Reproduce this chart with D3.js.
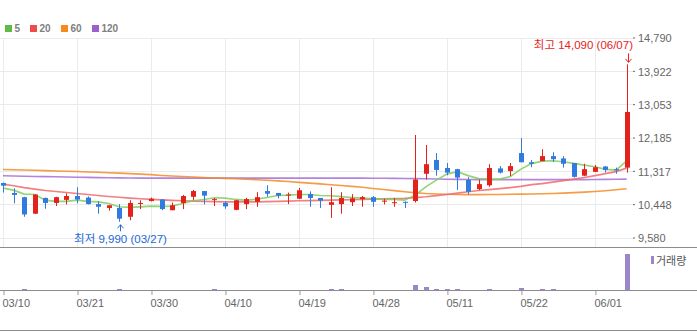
<!DOCTYPE html>
<html>
<head>
<meta charset="utf-8">
<script src="https://cdn.jsdelivr.net/npm/d3@7"></script>
<style>
  html, body { margin: 0; padding: 0; background: #fff; }
  svg { display: block; font-family: "Liberation Sans", Arial, "Noto Sans CJK KR", sans-serif; }
</style>
</head>
<body>
<svg id="chart" width="697" height="332"></svg>
<script>
// Daily trading dates (2023)
const dates = [
  "03/10","03/13","03/14","03/15","03/16","03/17","03/20","03/21",
  "03/22","03/23","03/24","03/27","03/28","03/29","03/30",
  "03/31","04/03","04/04","04/05","04/06","04/07","04/10",
  "04/11","04/12","04/13","04/14","04/17","04/18","04/19",
  "04/20","04/21","04/24","04/25","04/26","04/27","04/28",
  "05/02","05/03","05/04","05/08","05/09","05/10","05/11",
  "05/12","05/15","05/16","05/17","05/18","05/19","05/22",
  "05/23","05/24","05/25","05/26","05/30","05/31","06/01",
  "06/02","06/05","06/07"
];

const open = [
  11000,10740,10630,10200,10610,10480,10560,10660,
  10620,10450,10350,10350,10120,10460,10530,
  10570,10290,10480,10640,10790,10560,10480,
  10300,10450,10510,10790,10740,10690,10590,
  10710,10610,10430,10450,10500,10580,10630,
  10520,10490,10510,10530,11240,11600,11390,
  11360,11080,10840,10940,11380,11310,11780,
  11540,11570,11700,11640,11520,11190,11290,
  11430,11360,11400
];
const high = [
  11010,10860,10640,10710,10620,10640,10730,10890,
  10650,10520,10420,10450,10550,10550,10620,
  10580,10490,10690,10820,10790,10610,10520,
  10560,10610,10760,10940,10740,10750,10870,
  10780,10610,10890,10760,10710,10660,10660,
  10590,10610,10520,12250,11990,11780,11520,
  11370,11150,11090,11490,11440,11520,12170,
  11600,11880,11800,11700,11520,11500,11470,
  11440,11400,14090
];
const low = [
  10750,10470,10120,10190,10330,10400,10440,10470,
  10440,10200,10280,9990,10030,10320,10520,
  10290,10290,10320,10550,10440,10400,10330,
  10290,10320,10380,10640,10600,10450,10580,
  10380,10350,10090,10200,10400,10380,10380,
  10440,10380,10350,10490,11090,11190,11200,
  10820,10700,10810,10900,11250,11180,11540,
  11410,11560,11550,11400,11140,11180,11280,
  11270,11240,11270
];
const close = [
  10930,10690,10180,10700,10480,10630,10660,10570,
  10450,10380,10420,10070,10480,10480,10590,
  10320,10420,10660,10790,10670,10580,10390,
  10550,10580,10630,10720,10670,10700,10810,
  10610,10540,10500,10610,10600,10630,10510,
  10540,10500,10490,11090,11490,11340,11270,
  11140,10770,10970,11390,11270,11440,11540,
  11500,11700,11620,11500,11160,11360,11410,
  11340,11330,12850
];
const volume = [
  20000,15000,60000,25000,15000,10000,12000,18000,
  10000,14000,12000,65000,30000,10000,12000,
  14000,9000,16000,20000,15000,60000,12000,
  15000,10000,18000,22000,11000,9000,20000,
  14000,12000,65000,60000,18000,12000,10000,
  8000,9000,7000,350000,210000,80000,70000,
  72000,30000,20000,70000,25000,30000,140000,
  25000,70000,68000,28000,32000,22000,18000,
  15000,14000,2520000
];

// Moving averages (5 / 20 / 60 / 120 days)
const ma5 = [
  10866,10814,10710,10702,10554,10520,10520,10554,
  10520,10509,10468,10379,10364,10379,10397,
  10390,10397,10468,10536,10572,10614,10606,
  10572,10546,10580,10624,10676,10684,10702,
  10702,10676,10666,10645,10624,10606,10588,
  10572,10572,10554,10684,10900,11075,11231,
  11296,11192,11114,11101,11101,11166,11361,
  11505,11570,11578,11552,11510,11466,11421,
  11354,11335,11578
];
const ma20 = [
  10971,10926,10879,10840,10806,10780,10754,10728,
  10702,10676,10650,10627,10606,10588,10572,
  10559,10548,10538,10528,10520,10515,10509,
  10507,10507,10509,10515,10520,10528,10536,
  10541,10548,10554,10559,10567,10572,10580,
  10585,10593,10598,10619,10640,10671,10702,
  10736,10770,10806,10827,10853,10879,10911,
  10958,10984,11023,11062,11101,11145,11192,
  11244,11296,11387
];
const ma60 = [
  11353,11346,11338,11330,11322,11314,11307,11299,
  11288,11278,11267,11257,11244,11231,11218,
  11197,11181,11168,11155,11142,11129,11119,
  11109,11098,11085,11072,11056,11038,11017,
  10997,10976,10955,10934,10913,10887,10858,
  10830,10801,10773,10746,10726,10713,10705,
  10700,10697,10697,10700,10702,10705,10710,
  10715,10720,10728,10736,10749,10762,10778,
  10799,10822,10848
];
const ma120 = [
  11189,11181,11176,11171,11166,11161,11155,11150,
  11145,11140,11137,11132,11129,11127,11127,
  11127,11127,11127,11127,11127,11127,11127,
  11127,11127,11127,11127,11127,11127,11127,
  11127,11127,11127,11127,11127,11127,11124,
  11122,11119,11116,11114,11109,11103,11098,
  11093,11090,11088,11088,11088,11088,11088,
  11088,11088,11088,11088,11088,11088,11090,
  11093,11098,11101
];

const priceTicks = [14790, 13922, 13053, 12185, 11317, 10448, 9580];
const dateTicks = ["03/10","03/21","03/30","04/10","04/19","04/28","05/11","05/22","06/01"];

const maSeries = [
  { name: "5",   values: ma5,   color: "#5dbb46", line: "#7fcc5e" },
  { name: "20",  values: ma20,  color: "#ef4b4b", line: "#f06a6a" },
  { name: "60",  values: ma60,  color: "#f68a1e", line: "#f48a26" },
  { name: "120", values: ma120, color: "#9b5fce", line: "#a56fd6" }
];

const UP = "#e3221b", DOWN = "#317ae0";

const svg = d3.select("#chart");
const W = 697;
const plotRight = 633;

const x = d3.scalePoint().domain(dates).range([3, 626.6]);
const y = d3.scaleLinear().domain([9580, 14790]).range([237.5, 37.5]);
const yVol = d3.scaleLinear().domain([0, 2800000]).range([290, 250]);

// Horizontal price gridlines
svg.append("g").selectAll("line").data(priceTicks).join("line")
  .attr("x1", 0).attr("x2", plotRight)
  .attr("y1", d => Math.round(y(d)) + 0.5).attr("y2", d => Math.round(y(d)) + 0.5)
  .attr("stroke", "#ebebeb");

// Vertical date gridlines (price panel)
svg.append("g").selectAll("line").data(dateTicks).join("line")
  .attr("x1", d => Math.round(x(d)) + 0.5).attr("x2", d => Math.round(x(d)) + 0.5)
  .attr("y1", Math.round(y(14790))).attr("y2", 247)
  .attr("stroke", "#ebebeb");

// Right price axis
const yAxis = svg.append("g").attr("transform", `translate(${plotRight},0)`)
  .call(d3.axisRight(y).tickValues(priceTicks).tickSize(2).tickPadding(3)
    .tickFormat(d3.format(",")));
yAxis.select(".domain").remove();
yAxis.selectAll(".tick line").attr("stroke", "#666");
yAxis.selectAll("text").attr("fill", "#666").attr("font-size", 11)
  .attr("font-family", "Liberation Sans, Arial, sans-serif").attr("dy", "0.4em");

// Panel borders
[247.5, 290.5, 330.5].forEach(v => {
  svg.append("line").attr("x1", 0).attr("x2", W).attr("y1", v).attr("y2", v)
    .attr("stroke", "#8c8c8c");
});

// Moving-average lines
const line = d3.line().x((d, i) => x(dates[i])).y(d => y(d)).curve(d3.curveLinear);
svg.append("g").selectAll("path").data(maSeries.slice().reverse()).join("path")
  .attr("d", s => line(s.values))
  .attr("fill", "none")
  .attr("stroke", s => s.line)
  .attr("stroke-width", 1.6)
  .attr("stroke-opacity", 0.85);

// Candles
const candles = svg.append("g").selectAll("g").data(dates).join("g");
candles.append("line")
  .attr("x1", (d, i) => Math.round(x(d)) + 0.5).attr("x2", (d, i) => Math.round(x(d)) + 0.5)
  .attr("y1", (d, i) => y(high[i])).attr("y2", (d, i) => y(low[i]))
  .attr("stroke", (d, i) => close[i] >= open[i] ? UP : DOWN)
  .attr("stroke-width", 1);
candles.append("rect")
  .attr("x", d => Math.round(x(d)) - 2)
  .attr("width", 5)
  .attr("y", (d, i) => y(Math.max(open[i], close[i])))
  .attr("height", (d, i) => Math.max(1, Math.abs(y(open[i]) - y(close[i]))))
  .attr("fill", (d, i) => close[i] >= open[i] ? UP : DOWN);

// Volume bars
svg.append("g").selectAll("rect").data(dates).join("rect")
  .attr("x", d => Math.round(x(d)) - 2)
  .attr("width", 5)
  .attr("y", (d, i) => 290 - Math.round(yVol(0) - yVol(volume[i])))
  .attr("height", (d, i) => Math.round(yVol(0) - yVol(volume[i])))
  .attr("fill", "#9b86c9")
  .attr("shape-rendering", "crispEdges");

// Volume legend
svg.append("rect").attr("x", 651).attr("y", 256).attr("width", 3).attr("height", 8).attr("fill", "#9b86c9");
svg.append("text").attr("x", 656).attr("y", 264.5).text("거래량")
  .attr("font-size", 11).attr("fill", "#555").attr("font-family", "Noto Sans CJK KR, sans-serif");

// Bottom date axis
const xAxis = svg.append("g").attr("transform", "translate(0,290)")
  .call(d3.axisBottom(x).tickValues(dateTicks).tickSize(4).tickPadding(5));
xAxis.select(".domain").remove();
xAxis.selectAll(".tick line").attr("stroke", "#999").attr("transform", "translate(0.5,1)");
xAxis.selectAll("text").attr("fill", "#666").attr("font-size", 11)
  .attr("font-family", "Liberation Sans, Arial, sans-serif")
  .attr("text-anchor", "start").attr("dx", -1);

// Highest / lowest markers
const hiIdx = d3.maxIndex(high), loIdx = d3.minIndex(low);
const hx = Math.round(x(dates[hiIdx])) + 1.5, hy = y(high[hiIdx]);
svg.append("path")
  .attr("d", `M${hx},${hy - 11}V${hy - 2}M${hx - 3},${hy - 5.5}L${hx},${hy - 2}L${hx + 3},${hy - 5.5}`)
  .attr("fill", "none").attr("stroke", "#e8231c");
svg.append("text").attr("x", plotRight).attr("y", hy - 15).attr("text-anchor", "end")
  .attr("fill", "#e8231c").attr("font-size", 11.5)
  .text(`최고 ${d3.format(",")(high[hiIdx])} (${dates[hiIdx]})`);

const lx = Math.round(x(dates[loIdx])) + 1.5, ly = y(low[loIdx]);
svg.append("path")
  .attr("d", `M${lx},${ly + 9.5}V${ly + 3}M${lx - 3},${ly + 6.5}L${lx},${ly + 3}L${lx + 3},${ly + 6.5}`)
  .attr("fill", "none").attr("stroke", "#2369d6");
svg.append("text").attr("x", lx).attr("y", ly + 21.5).attr("text-anchor", "middle")
  .attr("fill", "#2369d6").attr("font-size", 11.5)
  .text(`최저 ${d3.format(",")(low[loIdx])} (${dates[loIdx]})`);

// Moving-average legend
const legendX = [5, 30, 61, 92];
const lg = svg.append("g").selectAll("g").data(maSeries).join("g")
  .attr("transform", (d, i) => `translate(${legendX[i]},25)`);
lg.append("rect").attr("width", 7).attr("height", 7).attr("fill", d => d.color);
lg.append("text").attr("x", 9.5).attr("y", 7.3).text(d => d.name)
  .attr("font-size", 10).attr("font-weight", "bold").attr("fill", "#808080");
</script>
</body>
</html>
